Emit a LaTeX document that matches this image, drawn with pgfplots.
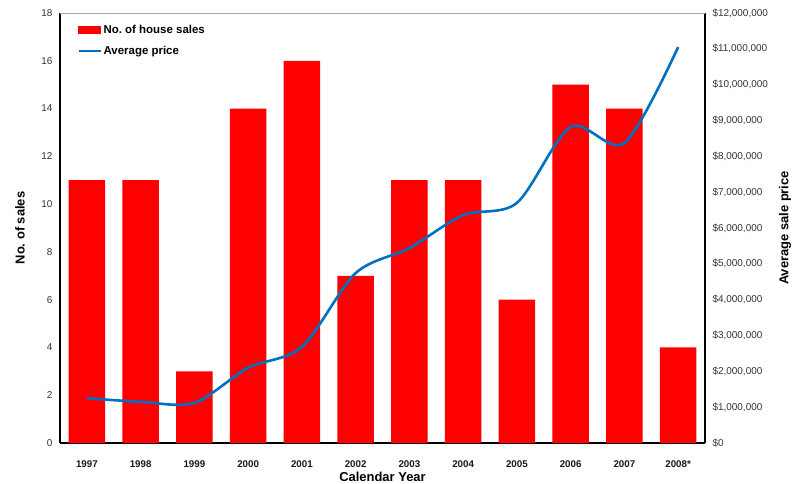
\documentclass[border=0pt]{standalone}
\usepackage{fontspec}
\setmainfont{Liberation Sans}
\usepackage{pgfplots}
\pgfplotsset{compat=1.18}
\definecolor{barred}{RGB}{255,0,0}
\definecolor{lineblue}{RGB}{0,112,192}
\begin{document}
\begin{tikzpicture}
\pgfplotsset{
  common/.style={
    width=645bp, height=430bp, scale only axis,
    xmin=-0.5, xmax=11.5,
    major tick length=0pt,
    /pgf/number format/assume math mode=true,
    tick label style={font=\fontsize{10}{12}\selectfont, text=black!80},
  },
}
\begin{axis}[common, name=ax,
  ymin=0, ymax=18, ytick={0,2,4,6,8,10,12,14,16,18},
  axis x line*=bottom, axis y line*=left,
  axis line style={black, line width=1.2bp},
  xtick={0,1,2,3,4,5,6,7,8,9,10,11},
  xticklabels={1997,1998,1999,2000,2001,2002,2003,2004,2005,2006,2007,2008*},
  xticklabel style={font=\bfseries\fontsize{9.8}{12}\selectfont, text=black!90, yshift=-14bp},
  yticklabel style={xshift=-4bp},
  ylabel={No.\ of sales},
  ylabel style={font=\bfseries\fontsize{13}{15}\selectfont, at={(axis description cs:0,0.5)}, anchor=center, yshift=40bp},
  xlabel={Calendar Year},
  xlabel style={font=\bfseries\fontsize{13}{15}\selectfont, at={(axis description cs:0.5,0)}, anchor=center, yshift=-34bp},
]
\addplot[ybar, bar width=0.68, fill=barred, draw=none] coordinates {
  (0,11) (1,11) (2,3) (3,14) (4,16) (5,7) (6,11) (7,11) (8,6) (9,15) (10,14) (11,4)
};
\end{axis}
\begin{axis}[common,
  ymin=0, ymax=12, ytick={0,1,2,3,4,5,6,7,8,9,10,11,12},
  yticklabels={{\$0},{\$1,000,000},{\$2,000,000},{\$3,000,000},{\$4,000,000},{\$5,000,000},{\$6,000,000},{\$7,000,000},{\$8,000,000},{\$9,000,000},{\$10,000,000},{\$11,000,000},{\$12,000,000}},
  axis y line*=right, axis x line=none,
  axis line style={black, line width=1.2bp},
  yticklabel style={anchor=west, xshift=4bp},
  ylabel={Average sale price},
  ylabel style={font=\bfseries\fontsize{13}{15}\selectfont, at={(axis description cs:1,0.5)}, anchor=center, yshift=-80bp},
  legend style={at={(axis description cs:0.027,0.977)}, anchor=north west, draw=none, fill=none,
    font=\bfseries\fontsize{11.5}{13}\selectfont, row sep=7bp, inner sep=0pt},
  legend cell align=left,
]
\addlegendimage{legend image code/.code={\fill[barred] (0bp,-3.5bp) rectangle (22bp,3.5bp);}}
\addlegendentry{No.\ of house sales}
\addplot[lineblue, line width=2.6bp, smooth, tension=0.5,
  legend image code/.code={\draw[lineblue, line width=2bp] (0bp,0bp) -- (22bp,0bp);}] coordinates {
  (0,1.25) (1,1.15) (2,1.12) (3,2.1) (4,2.68) (5,4.74) (6,5.44) (7,6.36) (8,6.70) (9,8.82) (10,8.37) (11,11.05)
};
\addlegendentry{Average price}
\end{axis}
\draw[gray!70, line width=0.8bp] (ax.north west) -- (ax.north east);
\pgfresetboundingbox
\path[use as bounding box] ([shift={(-60bp,-41bp)}]ax.south west) rectangle ([shift={(91bp,13bp)}]ax.north east);
\end{tikzpicture}
\end{document}
